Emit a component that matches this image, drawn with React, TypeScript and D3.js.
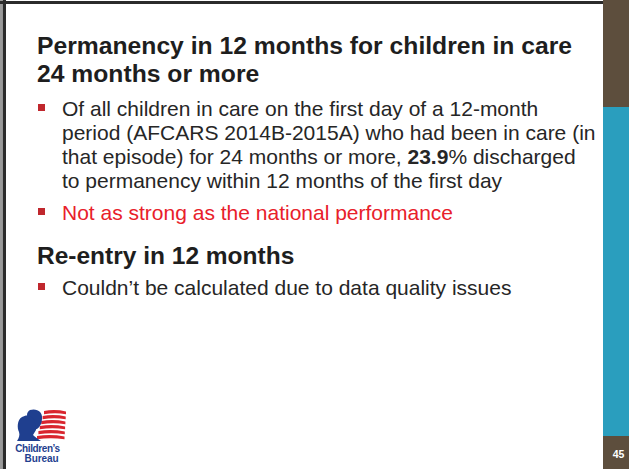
import React from "react";
import * as d3 from "d3";

const W = 629;
const H = 469;

const titleLines = ["Permanency in 12 months for children in care", "24 months or more"];
const bulletLines: { pre: string; bold?: string; post?: string }[] = [
  { pre: "Of all children in care on the first day of a 12-month" },
  { pre: "period (AFCARS 2014B-2015A) who had been in care (in" },
  { pre: "that episode) for 24 months or more, ", bold: "23.9", post: "% discharged" },
  { pre: "to permanency within 12 months of the first day" },
];
const redBullet = "Not as strong as the national performance";
const heading2 = "Re-entry in 12 months";
const bullet2 = "Couldn\u2019t be calculated due to data quality issues";
const pageNumber = "45";
const logoLines = ["Children\u2019s", "Bureau"];
const stripeIdx = [0, 1, 2, 3, 4, 5];

const FONT = "'Liberation Sans', Arial, Helvetica, sans-serif";

export default function App() {
  const titleY = d3.scaleLinear().domain([0, 1]).range([54, 82]);
  const bodyY = d3.scaleLinear().domain([0, 1]).range([116, 140]);
  const stripeY = d3.scaleLinear().domain([0, 5]).range([411, 436]);

  const textX = 62;
  const headX = 37;
  const bulletSq = (baseline: number, key: string) => (
    <rect key={key} x={38} y={baseline - 12} width={7} height={7} fill="#c0272d" />
  );

  return (
    <svg
      width={W}
      height={H}
      style={{ position: "fixed", left: 0, top: 0, background: "#fff" }}
      fontFamily={FONT}
    >
      <rect x={0} y={0} width={W} height={H} fill="#fff" />
      {/* frame */}
      <rect x={0} y={0} width={2} height={H} fill="#9a9a9a" />
      <rect x={2.5} y={0} width={3.5} height={H} fill="#2b2b2b" />
      <rect x={0} y={1} width={603} height={3} fill="#2b2b2b" />
      {/* right bar */}
      <rect x={603} y={0} width={26} height={107} fill="#5d4e3d" />
      <rect x={603} y={107} width={26} height={329} fill="#2a9ebe" />
      <rect x={603} y={436} width={26} height={33} fill="#5d4e3d" />
      <text x={618.5} y={458} fontSize={10.5} fontWeight="bold" fill="#fff" textAnchor="middle">
        {pageNumber}
      </text>

      {/* title */}
      {titleLines.map((t, i) => (
        <text key={t} x={headX} y={titleY(i)} fontSize={24.7} fontWeight="bold" fill="#1e1e1e">
          {t}
        </text>
      ))}

      {/* bullet 1 */}
      {bulletSq(bodyY(0), "b1")}
      {bulletLines.map((l, i) => (
        <text key={i} x={textX} y={bodyY(i)} fontSize={21} fill="#262626">
          {l.pre}
          {l.bold ? <tspan fontWeight="bold">{l.bold}</tspan> : null}
          {l.post ? <tspan>{l.post}</tspan> : null}
        </text>
      ))}

      {/* red bullet */}
      {bulletSq(220, "b2")}
      <text x={textX} y={220} fontSize={21} fill="#e8202a">
        {redBullet}
      </text>

      {/* heading 2 */}
      <text x={headX} y={264} fontSize={24.5} fontWeight="bold" fill="#1e1e1e">
        {heading2}
      </text>
      {bulletSq(295, "b3")}
      <text x={textX} y={295} fontSize={21} fill="#262626">
        {bullet2}
      </text>

      {/* logo */}
      <g>
        {stripeIdx.map((i) => {
          const y = stripeY(i);
          const x0 = 44 - i * 1.4;
          const x1 = 66 - i * 0.3;
          return (
            <path
              key={i}
              d={`M${x0},${y} Q${(x0 + x1) / 2},${y - 2} ${x1},${y + 0.5} L${x1},${y + 3.2} Q${(x0 + x1) / 2},${y + 1.2} ${x0},${y + 3.2} Z`}
              fill="#d9262f"
            />
          );
        })}
        {/* back head */}
        <path
          d="M30,410 C37,408 43,412 42,419 C42,423 40,427 37,429 L33,429 C29,425 27,419 27,415 C27,413 28,411 30,410 Z"
          fill="#1f3f8f"
        />
        {/* front head */}
        <path
          d="M22,417 C28,413 35,417 35,423 C35,426 37,428 36,430 C35,432 34,433 33,435 C35,437 38,439 41,441 L17,441 C19,438 20,435 19,432 C17,428 17,420 22,417 Z"
          fill="#1f3f8f"
        />
        <text x={37.5} y={452} fontSize={10} fontWeight="bold" fill="#1f3f8f" textAnchor="middle" letterSpacing={-0.4}>
          {logoLines[0]}
        </text>
        <text x={41.5} y={462} fontSize={10} fontWeight="bold" fill="#1f3f8f" textAnchor="middle" letterSpacing={-0.1}>
          {logoLines[1]}
        </text>
      </g>
    </svg>
  );
}
